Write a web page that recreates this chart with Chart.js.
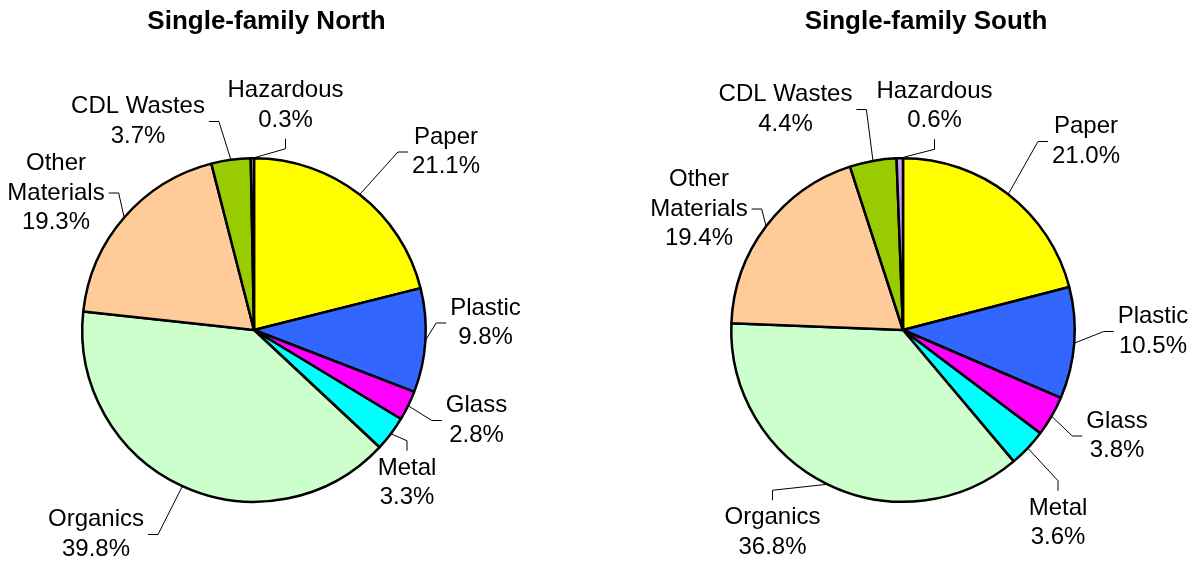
<!DOCTYPE html>
<html>
<head>
<meta charset="utf-8">
<title>Single-family waste composition</title>
<script src="https://cdn.jsdelivr.net/npm/chart.js@4.4.1/dist/chart.umd.min.js"></script>
<style>
  html, body { margin: 0; padding: 0; background: #fff; }
  #wrap { position: relative; width: 1196px; height: 562px; }
  .pane { position: absolute; top: 0; width: 598px; height: 562px; }
  #paneNorth { left: 0; }
  #paneSouth { left: 598px; }
</style>
</head>
<body>
<div id="wrap">
  <div class="pane" id="paneNorth"><canvas id="chartNorth" width="598" height="562"></canvas></div>
  <div class="pane" id="paneSouth"><canvas id="chartSouth" width="598" height="562"></canvas></div>
</div>
<script>
// categorias y porcentajes de cada zona
const categories = ["Paper", "Plastic", "Glass", "Metal", "Organics", "Other Materials", "CDL Wastes", "Hazardous"];
const northValues = [21.1, 9.8, 2.8, 3.3, 39.8, 19.3, 3.7, 0.3];
const southValues = [21.0, 10.5, 3.8, 3.6, 36.8, 19.4, 4.4, 0.6];
const sliceColors = ["#FFFF00", "#3366FF", "#FF00FF", "#00FFFF", "#CCFFCC", "#FFCC99", "#99CC00", "#CC99FF"];

// donde va cada etiqueta respecto al centro del pastel, y por que lado entra la guia
const northLabelPos = [
    { dx: 192, dy: -178, side: "left" },
    { dx: 231.5, dy: -7, side: "left" },
    { dx: 222.5, dy: 90.5, side: "left" },
    { dx: 153, dy: 153, side: "top" },
    { dx: -158, dy: 204.5, side: "right" },
    { dx: -198, dy: -137, side: "right", wrap: true },
    { dx: -116, dy: -208.5, side: "right" },
    { dx: 31.5, dy: -224.5, side: "bottom" }
];
const southLabelPos = [
    { dx: 183, dy: -188.5, side: "left" },
    { dx: 250, dy: 1.5, side: "left" },
    { dx: 214, dy: 106, side: "left" },
    { dx: 155, dy: 193, side: "top" },
    { dx: -130.5, dy: 202.5, side: "top" },
    { dx: -204, dy: -121, side: "right", wrap: true },
    { dx: -117.5, dy: -220.5, side: "right" },
    { dx: 31.5, dy: -224, side: "bottom" }
];

const FONT = '"Liberation Sans", Arial, Helvetica, sans-serif';

// titulo + etiquetas con linea guia
const leaderLabels = {
    id: "leaderLabels",
    afterDraw(chart, args, opts) {
        const ctx = chart.ctx;
        const meta = chart.getDatasetMeta(0);
        const names = chart.data.labels;
        const values = chart.data.datasets[0].data;
        const lh = 29.5;

        ctx.save();
        ctx.fillStyle = "#000";
        ctx.textAlign = "center";
        ctx.textBaseline = "middle";
        ctx.font = "bold 26px " + FONT;
        ctx.fillText(opts.title, opts.titleX, opts.titleY);

        ctx.font = "24px " + FONT;
        ctx.strokeStyle = "#000";
        ctx.lineWidth = 1;

        meta.data.forEach((arc, i) => {
            const p = arc.getProps(["x", "y", "startAngle", "endAngle", "outerRadius"], true);
            const mid = (p.startAngle + p.endAngle) / 2;
            const ax = p.x + Math.cos(mid) * p.outerRadius;
            const ay = p.y + Math.sin(mid) * p.outerRadius;

            const pos = opts.positions[i];
            const cx = p.x + pos.dx;
            const cy = p.y + pos.dy;
            const lines = (pos.wrap ? names[i].split(" ") : [names[i]]).concat(values[i].toFixed(1) + "%");
            const w = Math.max(...lines.map(t => ctx.measureText(t).width));
            const top = cy - (lines.length - 1) / 2 * lh - 8.5;
            const bottom = cy + (lines.length - 1) / 2 * lh + 8.5;

            let end, elbow;
            if (pos.side === "left") {
                end = [cx - w / 2 - 4, cy];
                elbow = [end[0] - 10, cy];
            } else if (pos.side === "right") {
                end = [cx + w / 2 + 4, cy];
                elbow = [end[0] + 10, cy];
            } else if (pos.side === "top") {
                end = [cx, top - 9];
                elbow = [cx, end[1] - 10];
            } else {
                end = [cx, bottom + 10];
                elbow = [cx, end[1] + 10];
            }

            ctx.beginPath();
            ctx.moveTo(ax, ay);
            ctx.lineTo(elbow[0], elbow[1]);
            ctx.lineTo(end[0], end[1]);
            ctx.stroke();

            lines.forEach((t, k) => {
                ctx.fillText(t, cx, cy + (k - (lines.length - 1) / 2) * lh);
            });
        });
        ctx.restore();
    }
};

function crearPastel(canvasId, values, positions, title, titleX, padding) {
    return new Chart(document.getElementById(canvasId), {
        type: "pie",
        data: {
            labels: categories,
            datasets: [{
                data: values,
                backgroundColor: sliceColors,
                borderColor: "#000",
                borderWidth: 2.5,
                hoverOffset: 0
            }]
        },
        options: {
            responsive: false,
            animation: false,
            layout: { padding: padding },
            plugins: {
                legend: { display: false },
                tooltip: { enabled: false },
                leaderLabels: { title: title, titleX: titleX, titleY: 22, positions: positions }
            }
        },
        plugins: [leaderLabels]
    });
}

crearPastel("chartNorth", northValues, northLabelPos, "Single-family North", 266.5,
    { left: 81, right: 171, top: 157, bottom: 59 });
crearPastel("chartSouth", southValues, southLabelPos, "Single-family South", 328,
    { left: 132, right: 120, top: 157, bottom: 59 });
</script>
</body>
</html>
